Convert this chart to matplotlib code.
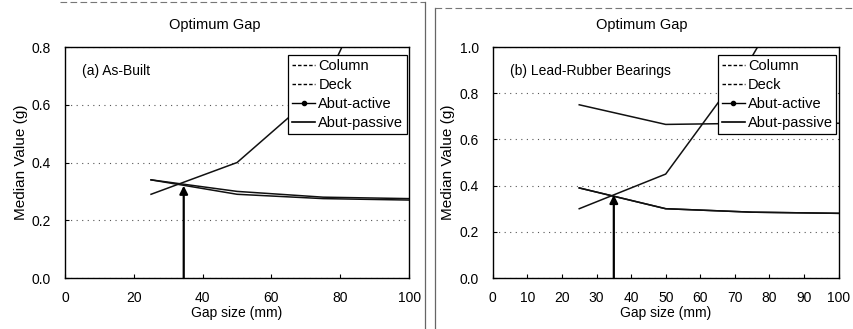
import matplotlib
matplotlib.use("Agg")
import matplotlib.pyplot as plt
from matplotlib.lines import Line2D
from matplotlib.ticker import FormatStrFormatter

plt.rcParams['font.family'] = ['Liberation Sans', 'DejaVu Sans']

# gap sizes (mm)
gaps = [25, 50, 75, 100]

# (a) As-Built
a_column = [0.34, 0.30, 0.28, 0.275]
a_deck = [0.34, 0.29, 0.275, 0.27]
a_passive = [0.29, 0.40, 0.66, 1.30]
a_optimum = 34.5
a_optimum_val = 0.32

# (b) Lead-Rubber Bearings
b_column = [0.39, 0.30, 0.285, 0.28]
b_deck = [0.39, 0.30, 0.285, 0.28]
b_active = [0.75, 0.665, 0.67, 0.67]
b_passive = [0.30, 0.45, 0.96, 1.60]
b_optimum = 35
b_optimum_val = 0.36

series_names = ['Column', 'Deck', 'Abut-active', 'Abut-passive']


def legend_handles():
    return [
        Line2D([], [], color='black', lw=1, ls=(0, (2.5, 1.5))),
        Line2D([], [], color='black', lw=1, ls=(0, (2.5, 1.5))),
        Line2D([], [], color='black', lw=1, marker='o', markersize=3),
        Line2D([], [], color='black', lw=1.2),
    ]


def panel(ax, lines, ymax, xticks, label, opt_x, opt_y):
    for ys in lines:
        ax.plot(gaps, ys, color='#111111', lw=1.1)
    ax.annotate('', xy=(opt_x, opt_y), xytext=(opt_x, 0),
                arrowprops=dict(arrowstyle='-|>', color='black', lw=1.6,
                                mutation_scale=12, shrinkA=0, shrinkB=0))
    ax.set_xlim(0, 100)
    ax.set_ylim(0, ymax)
    ax.set_xticks(xticks)
    ax.set_yticks([i * 0.2 for i in range(int(round(ymax / 0.2)) + 1)])
    ax.yaxis.set_major_formatter(FormatStrFormatter('%.1f'))
    ax.tick_params(direction='in', length=3, labelsize=10, colors='black')
    ax.tick_params(axis='x', pad=9)
    ax.tick_params(axis='y', pad=10)
    ax.yaxis.grid(True, ls=(0, (1, 4)), color='#555555', lw=0.8)
    for s in ax.spines.values():
        s.set_linewidth(1.0)
    ax.set_xlabel('Gap size (mm)', fontsize=10, labelpad=1)
    ax.set_ylabel('Median Value (g)', fontsize=11, labelpad=3)
    ax.text(0.05, 0.88, label, transform=ax.transAxes, fontsize=10)
    leg = ax.legend(legend_handles(), series_names, loc='upper right',
                    bbox_to_anchor=(1.0, 0.975), fontsize=10.5, frameon=True,
                    fancybox=False, edgecolor='black', framealpha=1,
                    handlelength=1.6, handletextpad=0.2, borderpad=0.25,
                    labelspacing=0.35, borderaxespad=0.15)
    leg.get_frame().set_linewidth(0.9)


fig = plt.figure(figsize=(8.54, 3.29), dpi=100)
ax1 = fig.add_axes([0.0761, 0.155, 0.403, 0.702])
ax2 = fig.add_axes([0.577, 0.155, 0.405, 0.702])

panel(ax1, [a_column, a_deck, a_passive], 0.8, range(0, 101, 20),
      '(a) As-Built', a_optimum, a_optimum_val)
panel(ax2, [b_column, b_deck, b_active, b_passive], 1.0, range(0, 101, 10),
      '(b) Lead-Rubber Bearings', b_optimum, b_optimum_val)

fig.text(215 / 854, 1 - 25 / 329, 'Optimum Gap', ha='center', va='center', fontsize=10.5)
fig.text(642 / 854, 1 - 25 / 329, 'Optimum Gap', ha='center', va='center', fontsize=10.5)

# scanned panel frames
fig.add_artist(Line2D([60 / 854, 425 / 854], [1 - 2 / 329] * 2, color='#777777',
                      lw=0.8, ls=(0, (6, 3))))
fig.add_artist(Line2D([425 / 854] * 2, [1 - 2 / 329, 0], color='#666666', lw=0.9))
fig.add_artist(Line2D([435 / 854] * 2, [1 - 8 / 329, 0], color='#666666', lw=0.9))
fig.add_artist(Line2D([435 / 854, 854 / 854], [1 - 8 / 329] * 2, color='#777777',
                      lw=0.8, ls=(0, (6, 3))))

fig.savefig('out.png', dpi=100)
